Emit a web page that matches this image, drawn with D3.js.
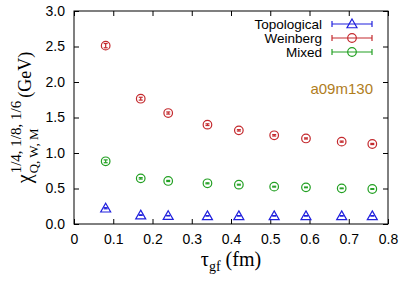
<!DOCTYPE html>
<html><head><meta charset="utf-8">
<script src="https://cdn.jsdelivr.net/npm/d3@7"></script>
<style>body{margin:0;background:#fff}svg{display:block}</style>
</head><body>
<script>
const tau = [0.0807, 0.170, 0.240, 0.340, 0.420, 0.510, 0.591, 0.682, 0.760];
const topological = [0.222, 0.125, 0.117, 0.115, 0.115, 0.115, 0.115, 0.115, 0.115];
const topoErr = [0.008, 0.004, 0.003, 0.003, 0.003, 0.003, 0.003, 0.003, 0.003];
const weinberg = [2.512, 1.765, 1.563, 1.399, 1.319, 1.249, 1.205, 1.160, 1.127];
const weinErr = [0.030, 0.020, 0.015, 0.012, 0.010, 0.010, 0.008, 0.008, 0.008];
const mixed = [0.883, 0.643, 0.606, 0.573, 0.554, 0.526, 0.516, 0.502, 0.493];
const mixedErr = [0.020, 0.010, 0.008, 0.007, 0.006, 0.006, 0.005, 0.005, 0.005];
const xTicks = [0, 0.1, 0.2, 0.3, 0.4, 0.5, 0.6, 0.7, 0.8];
const yTicks = [0, 0.5, 1.0, 1.5, 2.0, 2.5, 3.0];
const seriesNames = ["Topological", "Weinberg", "Mixed"];
const seriesColors = ["#2020dd", "#c42a2e", "#23a023"];
const seriesMarkers = ["triangle", "circle", "circle"];

const W = 405, H = 283;
const L = 74, R = 388, T = 11, B = 224;
const svg = d3.select("body").append("svg").attr("width", W).attr("height", H);
const x = d3.scaleLinear().domain([0, 0.8]).range([L, R]);
const y = d3.scaleLinear().domain([0, 3.0]).range([B, T]);
const sans = "'Liberation Sans', Arial, sans-serif";
const serif = "'Liberation Serif', 'Times New Roman', serif";
const tl = 5;

svg.append("g").attr("transform", `translate(0,${B})`)
  .call(d3.axisBottom(x).tickValues(xTicks).tickSize(-tl).tickPadding(10).tickFormat(d => d === 0 ? "0" : d3.format(".1f")(d)))
  .call(g => { g.select(".domain").remove(); g.selectAll("text").attr("font-size", 14).attr("font-family", sans).attr("fill", "#000"); });
svg.append("g").attr("transform", `translate(0,${T})`)
  .call(d3.axisTop(x).tickValues(xTicks).tickSize(-tl).tickFormat(""))
  .call(g => g.select(".domain").remove());
svg.append("g").attr("transform", `translate(${L},0)`)
  .call(d3.axisLeft(y).tickValues(yTicks).tickSize(-tl).tickPadding(9).tickFormat(d3.format(".1f")))
  .call(g => { g.select(".domain").remove(); g.selectAll("text").attr("font-size", 14).attr("font-family", sans).attr("fill", "#000"); });
svg.append("g").attr("transform", `translate(${R},0)`)
  .call(d3.axisRight(y).tickValues(yTicks).tickSize(-tl).tickFormat(""))
  .call(g => g.select(".domain").remove());
svg.selectAll(".tick line").attr("stroke", "#000").attr("stroke-width", 1);
svg.append("rect").attr("x", L).attr("y", T).attr("width", R - L).attr("height", B - T)
  .attr("fill", "none").attr("stroke", "#000").attr("stroke-width", 1);

function marker(g, type, cx, cy, color) {
  if (type === "circle") {
    g.append("circle").attr("cx", cx).attr("cy", cy).attr("r", 4.3)
      .attr("fill", "none").attr("stroke", color).attr("stroke-width", 1.2);
  } else {
    const s = 5;
    g.append("path").attr("d", `M${cx},${cy - s} L${cx + s},${cy + s * 0.75} L${cx - s},${cy + s * 0.75} Z`)
      .attr("fill", "none").attr("stroke", color).attr("stroke-width", 1.2);
  }
}

const allVals = [topological, weinberg, mixed];
const allErrs = [topoErr, weinErr, mixedErr];
allVals.forEach((vals, si) => {
  const g = svg.append("g");
  const c = seriesColors[si];
  vals.forEach((v, i) => {
    const cx = x(tau[i]), e = allErrs[si][i];
    const y0 = y(v - e), y1 = y(v + e);
    g.append("line").attr("x1", cx).attr("x2", cx).attr("y1", y0).attr("y2", y1).attr("stroke", c).attr("stroke-width", 1.2);
    g.append("line").attr("x1", cx - 2).attr("x2", cx + 2).attr("y1", y0).attr("y2", y0).attr("stroke", c).attr("stroke-width", 1.2);
    g.append("line").attr("x1", cx - 2).attr("x2", cx + 2).attr("y1", y1).attr("y2", y1).attr("stroke", c).attr("stroke-width", 1.2);
    marker(g, seriesMarkers[si], cx, y(v), c);
  });
});

seriesNames.forEach((n, i) => {
  const yy = 24 + i * 14;
  const c = seriesColors[i];
  svg.append("text").attr("x", 322).attr("y", yy + 4.8).attr("text-anchor", "end")
    .attr("font-size", 13.5).attr("font-family", sans).text(n);
  const g = svg.append("g");
  g.append("line").attr("x1", 332).attr("x2", 372).attr("y1", yy).attr("y2", yy).attr("stroke", c).attr("stroke-width", 1.2);
  g.append("line").attr("x1", 332).attr("x2", 332).attr("y1", yy - 3).attr("y2", yy + 3).attr("stroke", c).attr("stroke-width", 1.2);
  g.append("line").attr("x1", 372).attr("x2", 372).attr("y1", yy - 3).attr("y2", yy + 3).attr("stroke", c).attr("stroke-width", 1.2);
  marker(g, seriesMarkers[i], 352, yy, c);
});

svg.append("text").attr("x", 373).attr("y", 93.5).attr("text-anchor", "end")
  .attr("font-size", 15).attr("font-family", sans).attr("fill", "#b07d1c").text("a09m130");

const xt = svg.append("text").attr("y", 266).attr("font-family", serif).attr("font-size", 20);
xt.append("tspan").text("τ");
xt.append("tspan").attr("font-size", 14).attr("dy", 5).text("gf");
xt.append("tspan").attr("dy", -5).text(" (fm)");
const xtw = xt.node().getComputedTextLength();
xt.attr("x", (L + R) / 2 - xtw / 2);

const yg = svg.append("g").attr("transform", "rotate(-90)");
const base = 31;
const chi = yg.append("text").attr("y", base).attr("font-family", serif).attr("font-size", 20).text("χ");
const sup = yg.append("text").attr("y", base - 10).attr("font-family", serif).attr("font-size", 15).text("1/4, 1/8, 1/6");
const sub = yg.append("text").attr("y", base + 7).attr("font-family", serif).attr("font-size", 13).text("Q, W, M");
const gev = yg.append("text").attr("y", base).attr("font-family", serif).attr("font-size", 18).text("(GeV)");
const wc = chi.node().getComputedTextLength();
const ws = Math.max(sup.node().getComputedTextLength(), sub.node().getComputedTextLength());
const wg = gev.node().getComputedTextLength();
const gap = 4;
const total = wc + ws + gap + wg;
const start = -((T + B) / 2) - total / 2;
chi.attr("x", start);
sup.attr("x", start + wc + 1);
sub.attr("x", start + wc + 1);
gev.attr("x", start + wc + ws + gap);
</script>
</body></html>
